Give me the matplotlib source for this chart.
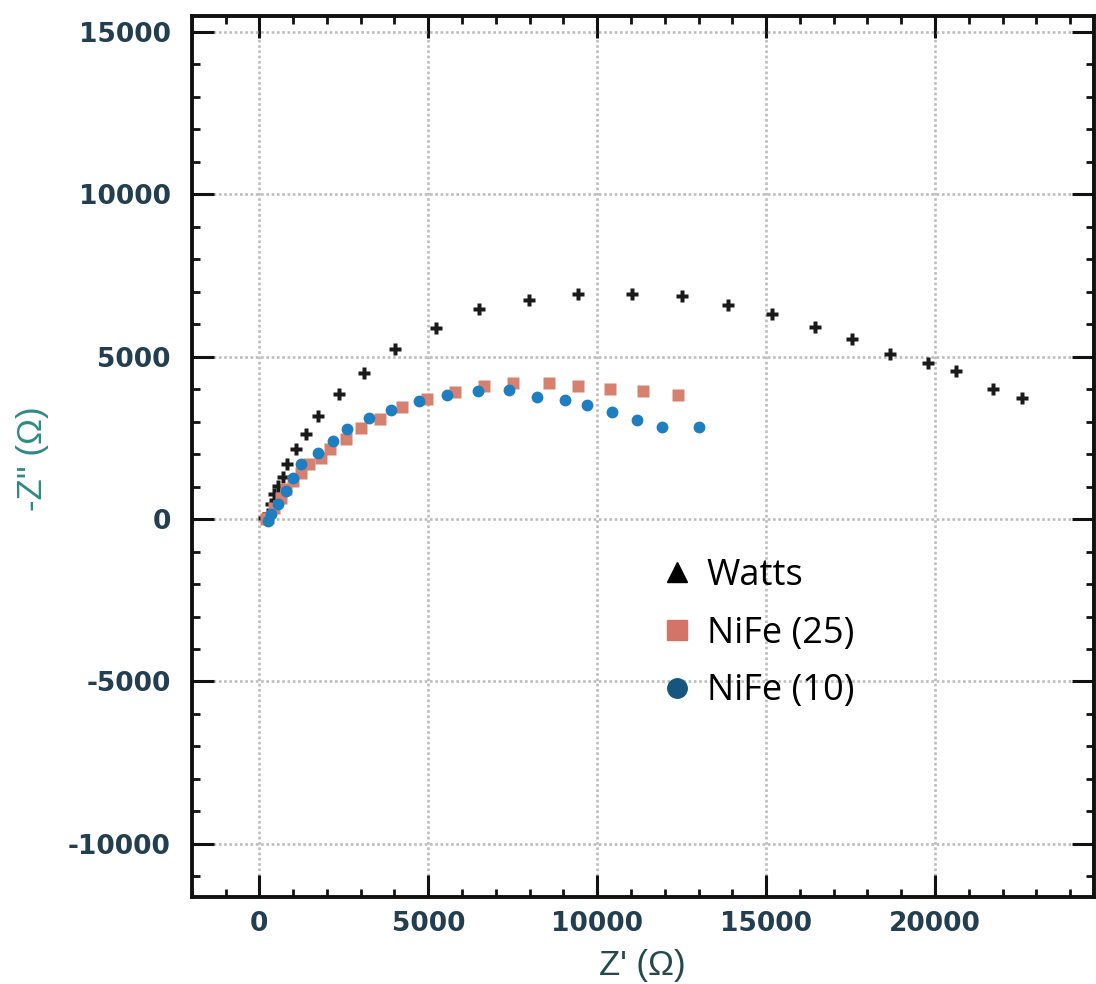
import matplotlib.pyplot as plt
from matplotlib.lines import Line2D
from matplotlib.ticker import MultipleLocator

plt.rcParams['axes.unicode_minus'] = False

# Nyquist data (Z' and -Z'' in ohm)
watts_zr = [150, 270, 350, 440, 560, 710, 830, 1090, 1390, 1740, 2360, 3100, 4010,
            5220, 6490, 7970, 9440, 11030, 12510, 13870, 15160, 16460, 17550, 18670,
            19800, 20620, 21710, 22570]
watts_zi = [20, 150, 460, 770, 1010, 1290, 1690, 2150, 2610, 3160, 3860, 4510, 5250,
            5890, 6470, 6750, 6930, 6930, 6870, 6590, 6320, 5920, 5550, 5090,
            4820, 4570, 4020, 3740]

nife25_zr = [200, 270, 440, 650, 800, 1000, 1240, 1480, 1830, 2100, 2570, 3010, 3570,
             4220, 4960, 5780, 6640, 7520, 8560, 9440, 10380, 11360, 12390]
nife25_zi = [0, 30, 340, 640, 920, 1170, 1410, 1690, 1870, 2150, 2480, 2790, 3070,
             3440, 3710, 3900, 4110, 4200, 4200, 4110, 4020, 3930, 3830]

nife10_zr = [250, 350, 560, 800, 1000, 1240, 1740, 2180, 2600, 3250, 3890, 4720, 5550,
             6460, 7380, 8230, 9060, 9710, 10440, 11180, 11920, 13010]
nife10_zi = [-60, 150, 460, 860, 1260, 1690, 2020, 2390, 2760, 3100, 3370, 3650, 3830,
             3930, 3960, 3770, 3680, 3500, 3310, 3040, 2850, 2850]

labels = ['Watts', 'NiFe (25)', 'NiFe (10)']

tick_col = '#233f4f'

fig = plt.figure(figsize=(10.96, 9.84), dpi=100)
ax = fig.add_axes([0.175, 0.088, 0.823, 0.896])

ax.plot(watts_zr, watts_zi, 'P', color='#1a1a1a', ms=8.5, mec='none', zorder=3)
ax.plot(nife25_zr, nife25_zi, 's', color='#d6806f', ms=8.5, mec='none', zorder=3)
ax.plot(nife10_zr, nife10_zi, 'o', color='#1d7fc2', ms=8.5, mec='none', zorder=4)

ax.set_xlim(-2000, 24700)
ax.set_ylim(-11650, 15500)
ax.xaxis.set_major_locator(MultipleLocator(5000))
ax.xaxis.set_minor_locator(MultipleLocator(1000))
ax.yaxis.set_major_locator(MultipleLocator(5000))
ax.yaxis.set_minor_locator(MultipleLocator(1000))

ax.grid(True, which='major', color='#bdbdbd', linestyle=(0, (1, 1)), linewidth=1.9)
ax.tick_params(which='both', direction='in', top=True, right=True, colors='#111111')
ax.tick_params(which='major', length=16, width=2.2)
ax.tick_params(which='minor', length=6, width=2)
ax.tick_params(axis='both', labelcolor=tick_col, labelsize=19)
ax.tick_params(axis='x', pad=10)
ax.tick_params(axis='y', pad=15)
for lab in ax.get_xticklabels() + ax.get_yticklabels():
    lab.set_fontweight('bold')
    lab.set_family('DejaVu Sans')
for sp in ax.spines.values():
    sp.set_linewidth(2.8)
    sp.set_color('#111111')

ax.set_xlabel("Z' (\u03a9)", fontsize=25, color='#254a4a', family='Liberation Sans')
ax.set_ylabel("-Z'' (\u03a9)", fontsize=25, color='#2f8a84', family='Liberation Sans')
ax.xaxis.set_label_coords(0.5, -0.058)
ax.yaxis.set_label_coords(-0.158, 0.498)

handles = [
    Line2D([], [], marker='^', ls='none', color='black', ms=14),
    Line2D([], [], marker='s', ls='none', color='#d47468', ms=15),
    Line2D([], [], marker='o', ls='none', color='#15557f', ms=14),
]
ax.legend(handles, labels, loc='upper left', bbox_to_anchor=(0.524, 0.385),
          frameon=False, prop={'family': 'Open Sans', 'size': 26}, handlelength=0.7,
          handletextpad=0.47, labelspacing=0.6, borderaxespad=0, borderpad=0)

fig.savefig('out.png', dpi=100)
